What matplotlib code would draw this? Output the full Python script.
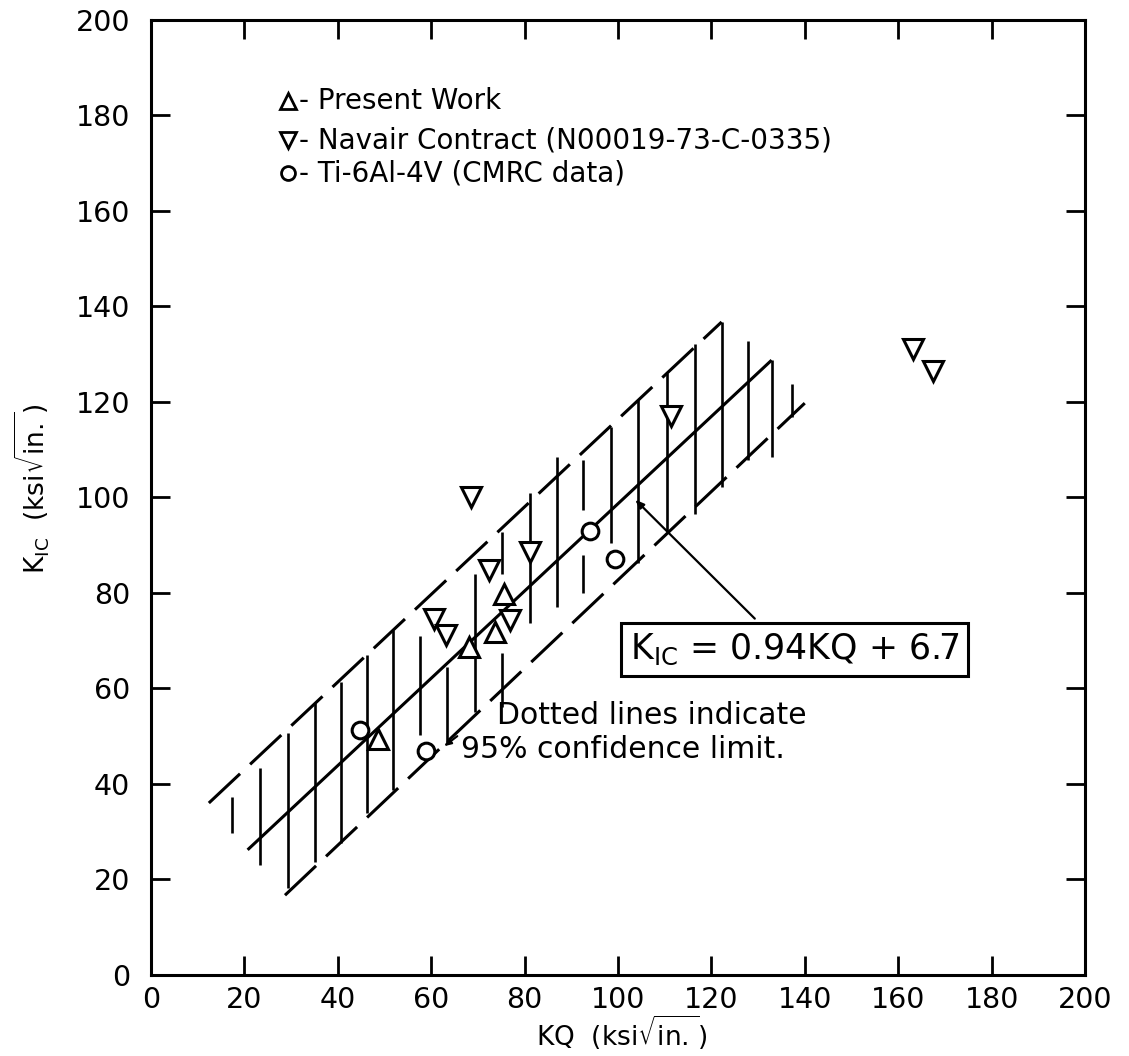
import matplotlib
matplotlib.use('Agg')
import matplotlib.pyplot as plt

# values (ksi sqrt(in.))
present_kq = [48.6, 68.2, 73.7, 75.6]
present_kic = [49.4, 68.6, 71.8, 79.7]
navair_kq = [68.5, 81.2, 72.4, 60.7, 63.1, 76.8, 111.3, 163.2, 167.4]
navair_kic = [100.0, 88.6, 84.7, 74.5, 71.2, 74.4, 117.0, 131.0, 126.4]
cmrc_kq = [44.7, 58.8, 94.0, 99.3]
cmrc_kic = [51.3, 46.8, 92.9, 87.0]

# regression line and 95% confidence band end points
fit_kq = [20.7, 132.9]
fit_kic = [26.2, 128.7]
upper_kq = [12.4, 122.2]
upper_kic = [36.0, 136.7]
lower_kq = [28.7, 140.0]
lower_kic = [16.7, 119.7]

# vertical hatching inside the band
hatch_kq = [17.3, 23.3, 29.3, 35.1, 40.8, 46.2, 51.8, 57.6, 63.3, 69.4, 75.1, 75.1,
            81.2, 86.9, 92.5, 92.5, 98.6, 104.3, 110.4, 116.5, 122.2, 127.8, 132.9, 137.2]
hatch_lo = [29.7, 23.0, 18.2, 23.6, 27.6, 33.9, 38.7, 50.2, 48.7, 55.0, 56.0, 84.0,
            73.6, 77.0, 97.3, 80.0, 90.4, 86.2, 93.0, 96.6, 102.2, 107.7, 108.4, 116.8]
hatch_hi = [37.2, 43.3, 50.6, 56.9, 61.3, 67.0, 72.2, 71.0, 64.4, 84.0, 67.4, 92.7,
            100.8, 108.4, 107.7, 88.0, 114.7, 120.3, 126.0, 132.0, 136.7, 132.8, 128.7, 123.8]

ticks = list(range(0, 201, 20))

fig, ax = plt.subplots(figsize=(11.29, 10.56), dpi=100)
fig.subplots_adjust(left=0.1337, right=0.961, bottom=0.0767, top=0.9815)

lw = 2.2
ax.plot(fit_kq, fit_kic, color='black', lw=lw, solid_capstyle='butt')
ax.plot(upper_kq, upper_kic, color='black', lw=lw, dashes=[14, 4.5])
ax.plot(lower_kq, lower_kic, color='black', lw=lw, dashes=[14, 4.5])
ax.vlines(hatch_kq, hatch_lo, hatch_hi, color='black', lw=1.9)

mk = dict(ls='none', mfc='white', mec='black', mew=2.2, zorder=5)
ax.plot(present_kq, present_kic, marker='^', ms=14, **mk)
ax.plot(navair_kq, navair_kic, marker='v', ms=14, **mk)
ax.plot(cmrc_kq, cmrc_kic, marker='o', ms=12, **mk)

# legend written on the plot, as in the original
leg_rows = [('^', '- Present Work', 183.0),
            ('v', '- Navair Contract (N00019-73-C-0335)', 174.7),
            ('o', '- Ti-6Al-4V (CMRC data)', 167.8)]
for m, label, yy in leg_rows:
    ax.plot([29.3], [yy], marker=m, ms=11 if m != 'o' else 10, ls='none',
            mfc='white', mec='black', mew=2)
    ax.text(31.8, yy, label, fontsize=20, va='center', ha='left')

# equation box with leader line
ax.annotate('', xy=(103.7, 99.5), xytext=(129.3, 74.6),
            arrowprops=dict(arrowstyle='-|>,head_length=0.5,head_width=0.2',
                            color='black', lw=1.6, shrinkA=0, shrinkB=0))
ax.text(102.5, 68.2, r'K$_{\mathrm{IC}}$ = 0.94KQ + 6.7', fontsize=25,
        va='center', ha='left',
        bbox=dict(boxstyle='square,pad=0.25', fc='white', ec='black', lw=2.2))

ax.text(74.1, 54.4, 'Dotted lines indicate', fontsize=21.5, va='center', ha='left')
ax.text(66.3, 47.3, '95% confidence limit.', fontsize=21.5, va='center', ha='left')
ax.annotate('', xy=(62.8, 47.9), xytext=(65.6, 50.0),
            arrowprops=dict(arrowstyle='-|>,head_length=0.4,head_width=0.18',
                            color='black', lw=1.5, shrinkA=0, shrinkB=0))

ax.set_xlim(0, 200)
ax.set_ylim(0, 200)
ax.set_xticks(ticks)
ax.set_yticks(ticks)
ax.tick_params(direction='in', length=13.5, width=2, top=True, right=True,
               labelsize=20.5)
ax.tick_params(axis='y', pad=15)
ax.tick_params(axis='x', pad=8)
for s in ax.spines.values():
    s.set_linewidth(2.2)

fig.text(0.551, 0.004, r'KQ  (ksi$\sqrt{\mathrm{in.}}$)', fontsize=19,
         ha='center', va='bottom')
fig.text(0.029, 0.537, r'K$_{\mathrm{IC}}$  (ksi$\sqrt{\mathrm{in.}}$)', fontsize=19,
         ha='center', va='center', rotation=90)

fig.savefig('out.png', dpi=100)
